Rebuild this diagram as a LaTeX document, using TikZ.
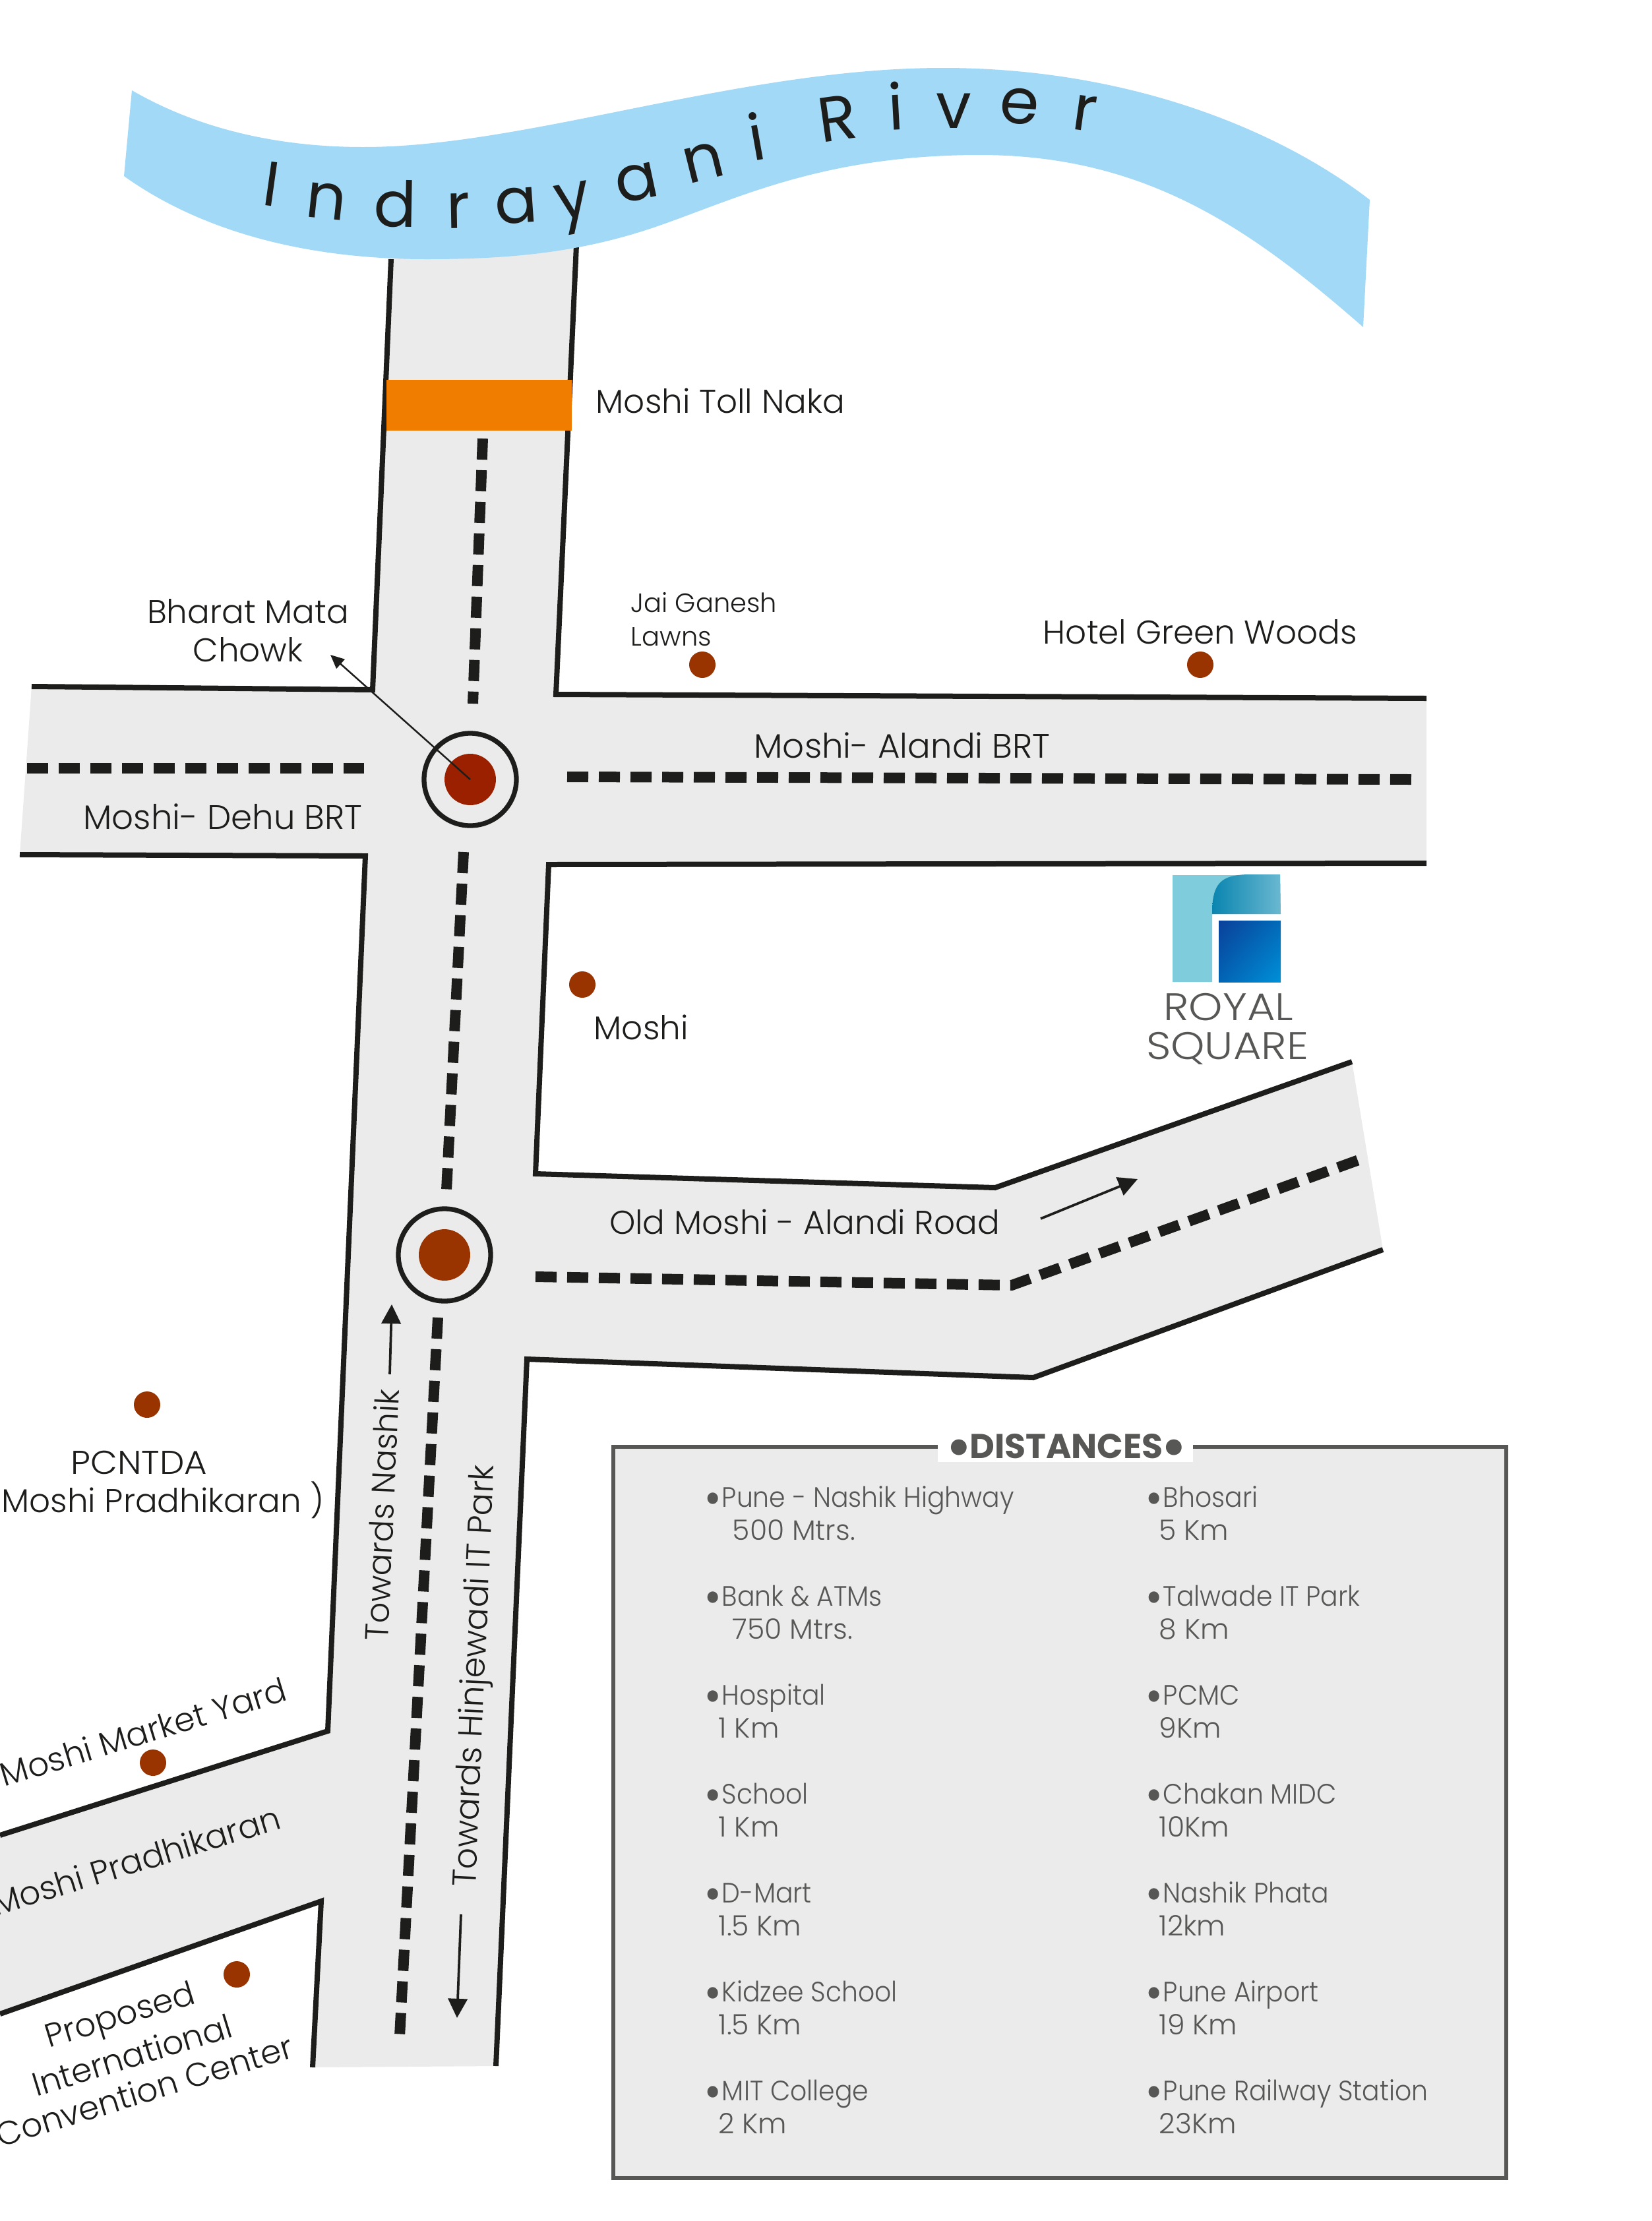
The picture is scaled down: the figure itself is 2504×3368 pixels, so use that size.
\documentclass[tikz,border=0pt]{standalone}
\usepackage{fontspec}
\usetikzlibrary{arrows.meta,shadings}
\setmainfont{Poppins}
\newfontfamily\lightfont{Poppins Light}
\newfontfamily\widefont[FakeStretch=1.12]{Poppins Light}
\newfontfamily\capsfont[FakeStretch=1.06]{Poppins Light}
\newfontfamily\itemfont[FakeStretch=0.925]{Poppins Light}
\newcommand\bul{\makebox[5.3pt][l]{\hspace{-1pt}\raisebox{-2.9pt}{\fontsize{18}{12}\selectfont •}}}
\newcommand\bulb{\raisebox{-2.6pt}{\fontsize{19}{12}\selectfont •}}
\definecolor{road}{HTML}{EBEBEB}
\definecolor{ink}{HTML}{1D1D1B}
\definecolor{river}{HTML}{A2D9F7}
\definecolor{toll}{HTML}{F07C00}
\definecolor{dotc}{HTML}{993300}
\definecolor{dotr}{HTML}{9B2000}
\definecolor{greytext}{HTML}{575756}
\definecolor{logolight}{HTML}{7FCCDC}
\definecolor{lgA}{HTML}{0A85B0}
\definecolor{lgB}{HTML}{6AB8D0}
\definecolor{lbUL}{HTML}{0A409A}
\definecolor{lbLR}{HTML}{0090D8}
\definecolor{lbUR}{HTML}{026AB8}
\definecolor{lbLL}{HTML}{0264B4}
\tikzset{
  x=0.24pt,y=-0.24pt,
  edge/.style={draw=ink,line width=1.92pt,line cap=butt,line join=miter},
  roaddash/.style={draw=ink,line width=3.84pt,dash pattern=on 7.68pt off 3.84pt},
  ring/.style={draw=ink,line width=1.75pt},
  poi/.style={circle,fill=dotc,minimum size=9.6pt,inner sep=0pt,draw=none},
  lab/.style={inner sep=0pt,text=ink,font=\lightfont\fontsize{12}{14}\selectfont,align=center},
  labb/.style={lab,font=\lightfont\fontsize{12.35}{14}\selectfont},
  small/.style={lab,font=\lightfont\fontsize{9.6}{12.3}\selectfont,align=left,anchor=west},
  rlet/.style={inner sep=0pt,text=ink,font=\fontsize{23}{26}\selectfont},
  dist/.style={inner sep=0pt,anchor=base west,text=greytext,font=\itemfont\fontsize{10.2}{12}\selectfont},
  distv/.style={inner sep=0pt,anchor=base west,text=greytext,font=\lightfont\fontsize{10.2}{12}\selectfont},
  logotext/.style={inner sep=0pt,anchor=base,text=greytext,font=\widefont\fontsize{14}{14}\selectfont},
  ptr/.style={draw=ink,line width=0.9pt,-{Triangle[length=7pt,width=7pt]}},
  thinptr/.style={draw=ink,line width=0.6pt,-{Triangle[length=5pt,width=4.5pt]}},
}
\begin{document}
\begin{tikzpicture}
\useasboundingbox (0,0) rectangle (2504,3368);
\fill[white] (0,0) rectangle (2504,3368);
% roads
\fill[road] (593,393) -- (565,1046) -- (48,1041) -- (30,1296) -- (554,1298) -- (497,2625) -- (0,2783) -- (0,3054) -- (487,2883) -- (474,3135) -- (752,3133) -- (799,2061) -- (1567,2089) -- (2097,1895) -- (2050,1610) -- (1509,1801) -- (812,1780) -- (832,1311) -- (2163,1309) -- (2163,1059) -- (843,1053) -- (874,372) -- cycle;
\draw[edge] (593,393) -- (565,1046) -- (48,1041);
\draw[edge] (30,1296) -- (554,1298) -- (497,2625) -- (0,2783);
\draw[edge] (0,3054) -- (487,2883) -- (474,3135);
\draw[edge] (752,3133) -- (799,2061) -- (1567,2089) -- (2097,1895);
\draw[edge] (2050,1610) -- (1509,1801) -- (812,1780) -- (832,1311) -- (2163,1309);
\draw[edge] (2163,1059) -- (843,1053) -- (874,372);
% toll
\fill[toll] (586,576) -- (867,576) -- (867,653) -- (586,653) -- cycle;
% dashes
\draw[roaddash] (732,665) -- (717,1067);
\draw[roaddash] (41,1165) -- (552,1165);
\draw[roaddash] (860,1178) -- (2140,1182);
\draw[roaddash] (703,1292) -- (677,1805);
\draw[roaddash] (664,1998) -- (606,3088);
\draw[roaddash] (812,1936) -- (1534,1949) -- (2063,1758);
% river
\fill[river] (200,137) .. controls (300,195) and (420,223) .. (551,223)
  .. controls (800,223) and (1120,103) .. (1430,103)
  .. controls (1700,103) and (1930,190) .. (2077,303)
  -- (2067,496)
  .. controls (1900,350) and (1740,235) .. (1486,235)
  .. controls (1250,235) and (1120,300) .. (1000,342)
  .. controls (880,384) and (770,393) .. (647,393)
  .. controls (440,393) and (290,340) .. (188,267) -- cycle;
% river name
\foreach \t/\x/\y/\r in {I/412/279/-8,n/495/305/-6,d/599/309/-1,r/695/319/1,a/783/312/4,y/871/316/10,a/966/277/12,n/1067/246/14,i/1147/207/10,R/1270/179/8,i/1358/160/3,v/1446/168/0,e/1546/161/-4,r/1645/172/-8}
  \node[rlet,rotate=\r] at (\x,\y) {\t};
% junctions
\node[circle,ring,minimum size=33.6pt,inner sep=0pt] (j1) at (713,1182) {};
\node[circle,fill=dotr,minimum size=18.7pt,inner sep=0pt] (j1c) at (713,1182) {};
\node[circle,ring,minimum size=33.6pt,inner sep=0pt] (j2) at (674,1903) {};
\node[circle,fill=dotc,minimum size=18.7pt,inner sep=0pt] (j2c) at (674,1903) {};
% POI
\node[poi] (p1) at (1065,1008) {};
\node[poi] (p2) at (1820,1008) {};
\node[poi] (p3) at (883,1493) {};
\node[poi] (p4) at (223,2130) {};
\node[poi] (p5) at (232,2673) {};
\node[poi] (p6) at (359,2994) {};
% arrows
\coordinate (a1) at (501,993);
\coordinate (b0) at (1578,1848);
\coordinate (b1) at (1725,1788);
\coordinate (c0) at (591,2084);
\coordinate (c1) at (594,1978);
\coordinate (d0) at (699,2903);
\coordinate (d1) at (693,3060);
\draw[thinptr] (j1c.center) -- (a1);
\draw[ptr] (b0) -- (b1);
\draw[ptr] (c0) -- (c1);
\draw[ptr] (d0) -- (d1);
% labels
\node[lab,anchor=west] (t1) at (903,608) {Moshi Toll Naka};
\node[lab] (t2) at (376,956) {Bharat Mata\\Chowk};
\node[small] (t3) at (956,939) {Jai Ganesh\\Lawns};
\node[lab] (t4) at (1820,958) {Hotel Green Woods};
\node[labb] (t5) at (1368,1130) {Moshi- Alandi BRT};
\node[labb] (t6) at (338,1238) {Moshi- Dehu BRT};
\node[lab,anchor=west] (t7) at (900,1558) {Moshi};
\node[lab] (t8) at (1220,1853) {Old Moshi - Alandi Road};
\node[lab,anchor=base,font=\capsfont\fontsize{12}{14}\selectfont] (t9) at (211,2235) {PCNTDA};
\node[lab,anchor=base] (t10) at (247,2293) {Moshi Pradhikaran )};
\node[lab,anchor=base,rotate=87.5,font=\lightfont\fontsize{11.9}{14}\selectfont] (t11) at (597,2298) {Towards Nashik};
\node[lab,anchor=base,rotate=87.5,font=\lightfont\fontsize{12.15}{14}\selectfont] (t12) at (735,2542) {Towards Hinjewadi IT Park};
\node[lab,rotate=17] (t13) at (217,2626) {Moshi Market Yard};
\node[lab,rotate=17] (t14) at (206,2821) {Moshi Pradhikaran};
\node[lab,rotate=17] (t15) at (183,3060) {Proposed};
\node[lab,rotate=17] (t16) at (200,3116) {International};
\node[lab,rotate=17] (t17) at (219,3170) {Convention Center};
% logo
\fill[logolight] (1778,1327) -- (1941,1327) -- (1942,1386) -- (1838,1386) -- (1838,1489) -- (1778,1489) -- cycle;
\shade[left color=lgA,right color=lgB] (1838,1386) .. controls (1838,1340) and (1850,1326) .. (1896,1326) -- (1941,1326) -- (1942,1386) -- cycle;
\shade[upper left=lbUL,lower right=lbLR,upper right=lbUR,lower left=lbLL] (1848,1396) rectangle (1942,1489);
\node[logotext] (rs1) at (1863,1547) {ROYAL};
\node[logotext] (rs2) at (1861,1606) {SQUARE};
% distances
\node[draw=greytext,line width=1.4pt,fill=road,minimum width=325pt,minimum height=266pt,inner sep=0pt] (box) at (1607,2748.5) {};
\fill[white] (1422,2180) rectangle (1809,2217);
\node[inner sep=0pt,anchor=base,text=greytext,font=\bfseries\fontsize{12.5}{14}\selectfont] (dt) at (1617,2211) {\bulb\hspace{-0.9pt}DISTANCES\hspace{-0.9pt}\bulb};
\foreach \n/\y/\a/\ax/\b/\c/\cx/\d in {
 1/2285/{Pune - Nashik Highway}/1110/{500 Mtrs.}/{Bhosari}/1757/{5 Km},
 2/2435/{Bank \& ATMs}/1110/{750 Mtrs.}/{Talwade IT Park}/1757/{8 Km},
 3/2585/{Hospital}/1089/{1 Km}/{PCMC}/1757/{9Km},
 4/2735/{School}/1089/{1 Km}/{Chakan MIDC}/1757/{10Km},
 5/2885/{D-Mart}/1089/{1.5 Km}/{Nashik Phata}/1757/{12km},
 6/3035/{Kidzee School}/1089/{1.5 Km}/{Pune Airport}/1757/{19 Km},
 7/3185/{MIT College}/1089/{2 Km}/{Pune Railway Station}/1757/{23Km}}
{
  \node[dist] (la\n) at (1072,\y) {\bul\a};
  \node[distv] (lb\n) at (\ax,\y+50) {\b};
  \node[dist] (ra\n) at (1741,\y) {\bul\c};
  \node[distv] (rb\n) at (\cx,\y+50) {\d};
}
\end{tikzpicture}
\end{document}
